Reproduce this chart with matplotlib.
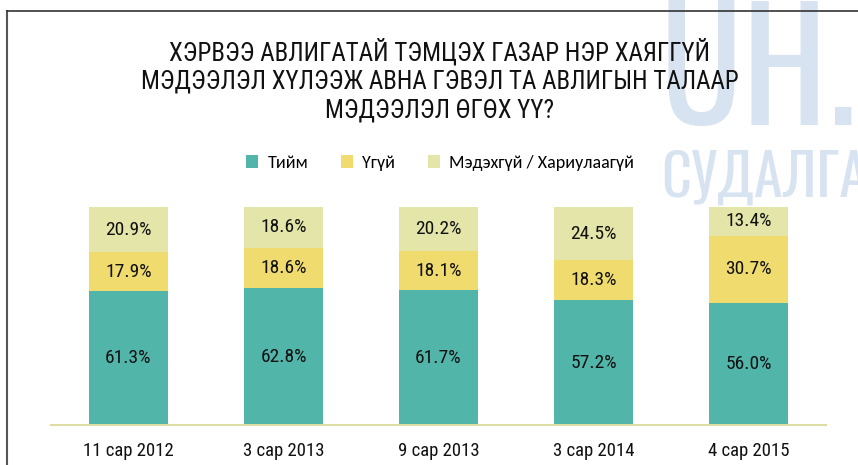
import numpy as np
import matplotlib.pyplot as plt
from matplotlib.lines import Line2D

# Өгөгдөл
periods = ["11 сар 2012", "3 сар 2013", "9 сар 2013", "3 сар 2014", "4 сар 2015"]
yes = [61.3, 62.8, 61.7, 57.2, 56.0]
no = [17.9, 18.6, 18.1, 18.3, 30.7]
dont_know = [20.9, 18.6, 20.2, 24.5, 13.4]
series_names = ["Тийм", "Үгүй", "Мэдэхгүй / Хариулаагүй"]

title = ("ХЭРВЭЭ АВЛИГАТАЙ ТЭМЦЭХ ГАЗАР НЭР ХАЯГГҮЙ\n"
         "МЭДЭЭЛЭЛ ХҮЛЭЭЖ АВНА ГЭВЭЛ ТА АВЛИГЫН ТАЛААР\n"
         "МЭДЭЭЛЭЛ ӨГӨХ ҮҮ?")

colors = ["#52b5aa", "#f0dc6e", "#e3e6a8"]
narrow = ["Roboto Condensed", "PT Sans Narrow", "DejaVu Sans"]
wm = ["Oswald", "Roboto Condensed", "DejaVu Sans"]

fig = plt.figure(figsize=(8.58, 4.65), dpi=100)
W, H = 858, 465

# усан тэмдэг
fig.text(660 / W, 1 - 125 / H, "UH.", fontsize=110, color="#d8e3f1",
         family=wm, fontweight="bold", ha="left", va="baseline", zorder=0)
fig.text(661 / W, 1 - 197 / H, "СУДАЛГАА", fontsize=42, color="#d8e3f1",
         family=wm, fontweight="bold", ha="left", va="baseline", zorder=0)

# хүрээ
fig.add_artist(Line2D([7 / W, 7 / W], [0, 1 - 11 / H], transform=fig.transFigure,
                      color="#555555", lw=1.5))
fig.add_artist(Line2D([7 / W, 1], [1 - 11 / H, 1 - 11 / H], transform=fig.transFigure,
                      color="#333333", lw=1.2))

fig.text(440 / W, 1 - 80 / H, title, ha="center", va="center", fontsize=18,
         family=narrow, color="#111111", linespacing=1.24)

ax = fig.add_axes([51 / W, 1 - 425 / H, (826 - 51) / W, (425 - 207) / H])
ax.set_facecolor("none")
x = np.arange(len(periods))
width = 0.516
bottom = np.zeros(len(periods))
bars = []
for vals, c in zip([yes, no, dont_know], colors):
    b = ax.bar(x, vals, width, bottom=bottom, color=c, zorder=2)
    for xi, v, bt in zip(x, vals, bottom):
        ax.text(xi, bt + v / 2, f"{v:.1f}%", ha="center", va="center",
                fontsize=14, family=narrow, color="#111111", zorder=3)
    bottom = bottom + np.array(vals)
    bars.append(b)

ax.set_xlim(-0.5, 4.5)
ax.set_ylim(0, 100)
ax.set_yticks([])
for s in ["top", "right", "left"]:
    ax.spines[s].set_visible(False)
ax.spines["bottom"].set_color("#dcdca4")
ax.spines["bottom"].set_linewidth(1.5)
ax.set_xticks(x)
ax.set_xticklabels(periods, fontsize=13.5, family=narrow, color="#111111")
ax.tick_params(axis="x", length=0, pad=12)

fig.legend(bars, series_names, loc="center", bbox_to_anchor=(440 / W, 1 - 163 / H),
           ncol=3, frameon=False, handlelength=0.7, handleheight=0.7,
           handletextpad=0.5, columnspacing=1.8,
           prop={"family": ["Carlito", "DejaVu Sans"], "size": 13})

plt.savefig("out.png", dpi=100)
